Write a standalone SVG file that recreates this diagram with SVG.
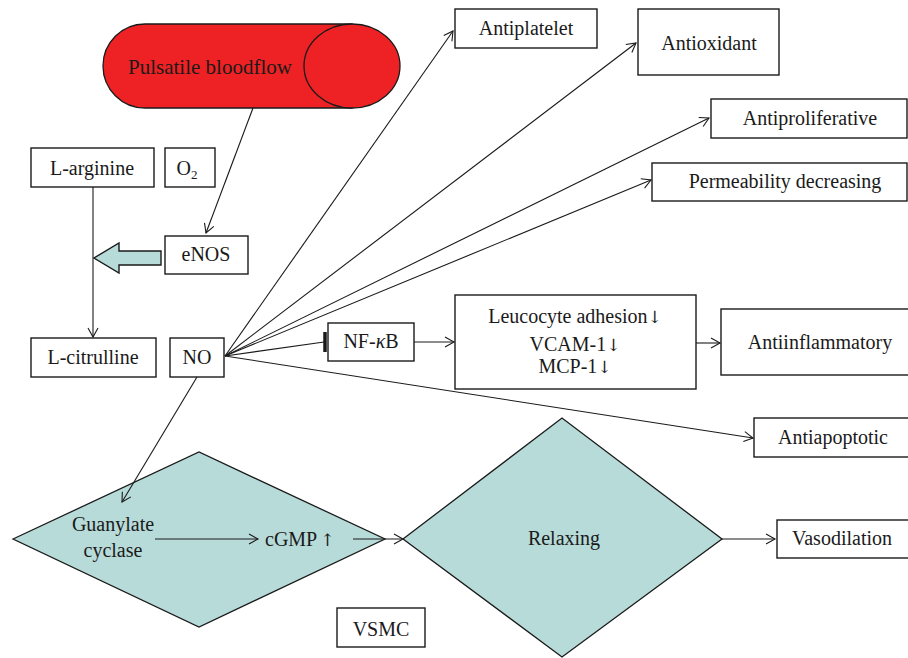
<svg xmlns="http://www.w3.org/2000/svg" width="908" height="658" viewBox="0 0 908 658">
<style>
text{font-family:"Liberation Serif","Times New Roman",serif;font-size:20px;fill:#1a1a1a}
.c{text-anchor:middle}
.ar{font-family:"DejaVu Serif",serif;font-size:17px}
.box{fill:#fff;stroke:#1a1a1a;stroke-width:1.4}
.dia{fill:#b7dbd9;stroke:#1a1a1a;stroke-width:1.3}
.ln{stroke:#1a1a1a;stroke-width:1.1;fill:none}
</style>
<defs>
<marker id="ah" markerUnits="userSpaceOnUse" markerWidth="14" markerHeight="14" viewBox="-11 -7 14 14" refX="0" refY="0" orient="auto">
<path d="M-9,-5 L0,0 L-9,5" fill="none" stroke="#1a1a1a" stroke-width="1.1"/>
</marker>
</defs>
<rect width="908" height="658" fill="#fff"/>

<g id="pulsatile">
<path d="M352,24 L145,24 A42,42 0 0 0 145,108 L352,108 Z" fill="#ee2224" stroke="#1a1a1a" stroke-width="1.3"/>
<ellipse cx="352" cy="66" rx="48" ry="42" fill="#ee2224" stroke="#1a1a1a" stroke-width="1.3"/>
<text x="210" y="74" class="c" style="font-size:21px">Pulsatile bloodflow</text>
</g>
<g id="larginine"><rect class="box" x="31" y="148" width="123" height="39"/><text x="92" y="175" class="c">L-arginine</text></g>
<g id="o2"><rect class="box" x="165" y="148" width="50" height="39"/><text x="187" y="175" class="c">O<tspan font-size="13" dy="4">2</tspan></text></g>
<g id="enos"><rect class="box" x="165" y="236" width="83" height="38"/><text x="206" y="261" class="c">eNOS</text></g>
<g id="blockarrow"><path d="M161,251 L119,251 L119,243 L94,258 L119,273 L119,265 L161,265 Z" fill="#b7dbd9" stroke="#1a1a1a" stroke-width="1.4"/></g>
<g id="lcitrulline"><rect class="box" x="31" y="338" width="125" height="39"/><text x="93" y="364" class="c">L-citrulline</text></g>
<g id="no"><rect class="box" x="170" y="338" width="54" height="39"/><text x="197" y="364" class="c">NO</text></g>
<g id="antiplatelet"><rect class="box" x="455" y="9" width="142" height="39"/><text x="526" y="35" class="c">Antiplatelet</text></g>
<g id="antioxidant"><rect class="box" x="638" y="9" width="141" height="66"/><text x="709" y="50" class="c">Antioxidant</text></g>
<g id="antiproliferative"><rect class="box" x="711" y="99" width="196" height="39"/><text x="810" y="125" class="c">Antiproliferative</text></g>
<g id="permeability"><rect class="box" x="652" y="163" width="255" height="38"/><text x="785" y="188" class="c">Permeability decreasing</text></g>
<g id="nfkb"><rect class="box" x="328" y="323" width="86" height="38"/><text x="371" y="348" class="c">NF-<tspan font-style="italic">κ</tspan>B</text></g>
<g id="leucocyte"><rect class="box" x="455" y="295" width="241" height="94"/>
<text x="575" y="323" class="c">Leucocyte adhesion<tspan class="ar">↓</tspan></text>
<text x="575" y="351" class="c">VCAM-1<tspan class="ar">↓</tspan></text>
<text x="575" y="373" class="c">MCP-1<tspan class="ar">↓</tspan></text></g>
<g id="antiinflammatory"><rect class="box" x="721" y="309" width="190" height="66"/><text x="820" y="349" class="c">Antiinflammatory</text></g>
<g id="antiapoptotic"><rect class="box" x="754" y="418" width="157" height="39"/><text x="833" y="444" class="c">Antiapoptotic</text></g>
<g id="guanylate"><path class="dia" d="M13,539 L199,452 L385,539 L199,627 Z"/>
<text x="113" y="531" class="c">Guanylate</text><text x="113" y="557" class="c">cyclase</text>
<text x="265" y="546">cGMP<tspan class="ar" dx="3">↑</tspan></text></g>
<g id="relaxing"><path class="dia" d="M403,539 L562,418 L722,539 L562,657 Z"/><text x="564" y="545" class="c">Relaxing</text></g>
<g id="vasodilation"><rect class="box" x="777" y="520" width="134" height="38"/><text x="842" y="545" class="c">Vasodilation</text></g>
<g id="vsmc"><rect class="box" x="337" y="608" width="88" height="39"/><text x="381" y="636" class="c">VSMC</text></g>

<g id="connectors">
<line class="ln" x1="253" y1="108" x2="206" y2="233" marker-end="url(#ah)"/>
<line class="ln" x1="93" y1="187" x2="93" y2="337" marker-end="url(#ah)"/>
<line class="ln" x1="225" y1="356" x2="453" y2="31" marker-end="url(#ah)"/>
<line class="ln" x1="225" y1="356" x2="636" y2="43" marker-end="url(#ah)"/>
<line class="ln" x1="225" y1="356" x2="709" y2="118" marker-end="url(#ah)"/>
<line class="ln" x1="225" y1="356" x2="651" y2="180" marker-end="url(#ah)"/>
<line class="ln" x1="225" y1="356" x2="324" y2="342"/>
<line x1="325" y1="332" x2="325" y2="352" stroke="#1a1a1a" stroke-width="3.5"/>
<line class="ln" x1="414" y1="342" x2="454" y2="342" marker-end="url(#ah)"/>
<line class="ln" x1="696" y1="343" x2="720" y2="343" marker-end="url(#ah)"/>
<line class="ln" x1="225" y1="356" x2="753" y2="438" marker-end="url(#ah)"/>
<line class="ln" x1="197" y1="377" x2="122" y2="502" marker-end="url(#ah)"/>
<line class="ln" x1="155" y1="539" x2="258" y2="539" marker-end="url(#ah)"/>
<line class="ln" x1="353" y1="539" x2="403" y2="539" marker-end="url(#ah)"/>
<line class="ln" x1="722" y1="539" x2="775" y2="539" marker-end="url(#ah)"/>
</g>
</svg>
